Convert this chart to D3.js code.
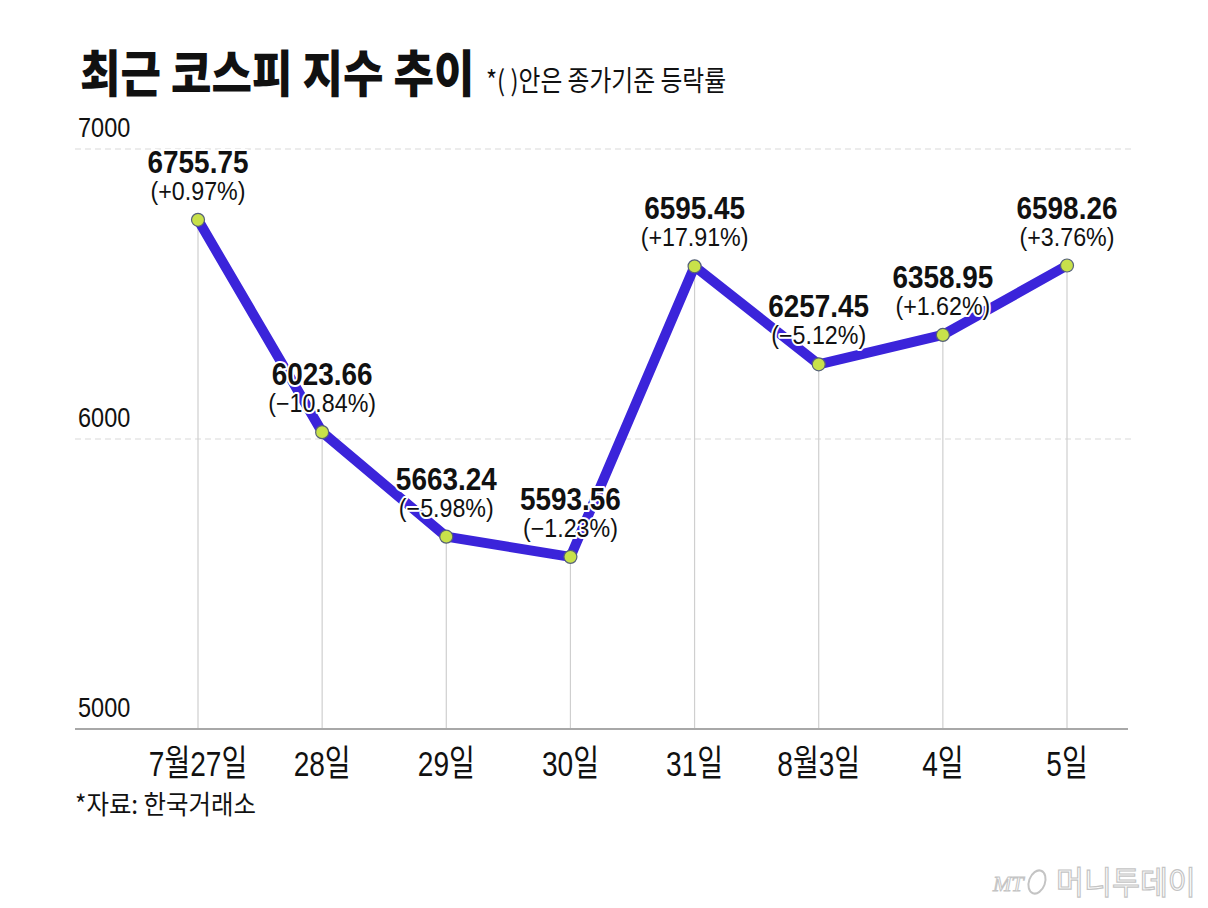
<!DOCTYPE html>
<html>
<head>
<meta charset="utf-8">
<script src="https://cdn.jsdelivr.net/npm/d3@7"></script>
<style>
  html, body { margin: 0; padding: 0; background: #fff; }
  svg { display: block; }
</style>
</head>
<body>
<svg id="chart" width="1208" height="908"></svg>
<script>
const categories = ["7월27일", "28일", "29일", "30일", "31일", "8월3일", "4일", "5일"];
const values = [6755.75, 6023.66, 5663.24, 5593.56, 6595.45, 6257.45, 6358.95, 6598.26];
const changes = ["(+0.97%)", "(−10.84%)", "(−5.98%)", "(−1.23%)", "(+17.91%)", "(−5.12%)", "(+1.62%)", "(+3.76%)"];
const yTicks = [5000, 6000, 7000];
const titleText = "최근 코스피 지수 추이";
const subtitleText = "*( )안은 종가기준 등락률";
const sourceText = "*자료: 한국거래소";

const svg = d3.select("#chart");
const KR = "'Noto Sans CJK KR', sans-serif";
const LAT = "'Liberation Sans', 'Noto Sans CJK KR', sans-serif";

const x = d3.scalePoint().domain(categories).range([198, 1067]).padding(0);
const y = d3.scaleLinear().domain([5000, 7000]).range([729, 149]);

// Title
svg.append("text")
  .attr("transform", "translate(80,92) scale(0.88,1)")
  .attr("font-family", KR).attr("font-weight", 900).attr("font-size", 50)
  .attr("fill", "#111").text(titleText);
svg.append("text")
  .attr("transform", "translate(486,91) scale(0.85,1)")
  .attr("font-family", KR).attr("font-size", 28)
  .attr("fill", "#111").attr("xml:space", "preserve").text(subtitleText);

// Gridlines (dashed) for 6000/7000
const grid = svg.append("g");
grid.selectAll("line").data(yTicks.filter(d => d > 5000)).join("line")
  .attr("x1", 75).attr("x2", 1132)
  .attr("y1", d => y(d)).attr("y2", d => y(d))
  .attr("stroke", "#d9d9d9").attr("stroke-width", 1.2)
  .attr("stroke-dasharray", "6,4");

// Tick labels
svg.append("g").selectAll("text").data(yTicks).join("text")
  .attr("transform", d => `translate(78,${y(d) - 12}) scale(0.84,1)`)
  .attr("font-family", LAT).attr("font-size", 28)
  .attr("fill", "#111").text(d => d);

// Vertical drop lines
svg.append("g").selectAll("line").data(values).join("line")
  .attr("x1", (d, i) => x(categories[i])).attr("x2", (d, i) => x(categories[i]))
  .attr("y1", d => y(d)).attr("y2", y(5000))
  .attr("stroke", "#cfcfcf").attr("stroke-width", 1.2);

// Axis baseline
svg.append("line")
  .attr("x1", 75).attr("x2", 1128)
  .attr("y1", y(5000)).attr("y2", y(5000))
  .attr("stroke", "#a8a8a8").attr("stroke-width", 2);

// X labels
svg.append("g").selectAll("text").data(categories).join("text")
  .attr("transform", d => `translate(${x(d)},776) scale(0.78,1)`)
  .attr("text-anchor", "middle")
  .attr("font-family", LAT).attr("font-size", 36)
  .attr("fill", "#111").text(d => d);

// Source
svg.append("text")
  .attr("transform", "translate(75,814) scale(0.94,1)")
  .attr("font-family", KR).attr("font-size", 26)
  .attr("fill", "#111").text(sourceText);

// Line
const pts = values.map((v, i) => [x(categories[i]), y(v)]);
svg.append("path")
  .attr("d", d3.line()(pts))
  .attr("fill", "none")
  .attr("stroke", "#3b24da").attr("stroke-width", 10)
  .attr("stroke-linejoin", "round").attr("stroke-linecap", "round");

// Points
svg.append("g").selectAll("circle").data(values).join("circle")
  .attr("cx", (d, i) => x(categories[i])).attr("cy", d => y(d))
  .attr("r", 6.5)
  .attr("fill", "#c8e14a").attr("stroke", "#55607a").attr("stroke-width", 1.2);

// Value labels
const lab = svg.append("g");
lab.selectAll("text.v").data(values).join("text")
  .attr("class", "v")
  .attr("transform", (d, i) => `translate(${x(categories[i])},${y(d) - 47}) scale(0.9,1)`)
  .attr("text-anchor", "middle")
  .attr("font-family", LAT).attr("font-weight", 700).attr("font-size", 31)
  .attr("fill", "#111").attr("stroke", "#fff").attr("stroke-width", 4)
  .attr("paint-order", "stroke").attr("stroke-linejoin", "round")
  .text(d => d.toFixed(2));
lab.selectAll("text.c").data(changes).join("text")
  .attr("class", "c")
  .attr("transform", (d, i) => `translate(${x(categories[i])},${y(values[i]) - 20}) scale(0.93,1)`)
  .attr("text-anchor", "middle")
  .attr("font-family", LAT).attr("font-size", 25)
  .attr("fill", "#111").attr("stroke", "#fff").attr("stroke-width", 4)
  .attr("paint-order", "stroke").attr("stroke-linejoin", "round")
  .text(d => d);

// Watermark
const wm = svg.append("g");
wm.append("text")
  .attr("x", 993).attr("y", 891)
  .attr("font-family", "'Liberation Serif', serif").attr("font-style", "italic")
  .attr("font-size", 22).attr("fill", "#fff").attr("stroke", "#c4c4c4").attr("stroke-width", 1)
  .text("MT");
wm.append("ellipse")
  .attr("cx", 1037).attr("cy", 882).attr("rx", 8).attr("ry", 12)
  .attr("transform", "rotate(20,1037,882)")
  .attr("fill", "none").attr("stroke", "#c4c4c4").attr("stroke-width", 2);
wm.append("text")
  .attr("transform", "translate(1056,894) scale(0.95,1)")
  .attr("font-family", KR).attr("font-size", 32)
  .attr("fill", "#fff").attr("stroke", "#c4c4c4").attr("stroke-width", 1.2)
  .text("머니투데이");
</script>
</body>
</html>
